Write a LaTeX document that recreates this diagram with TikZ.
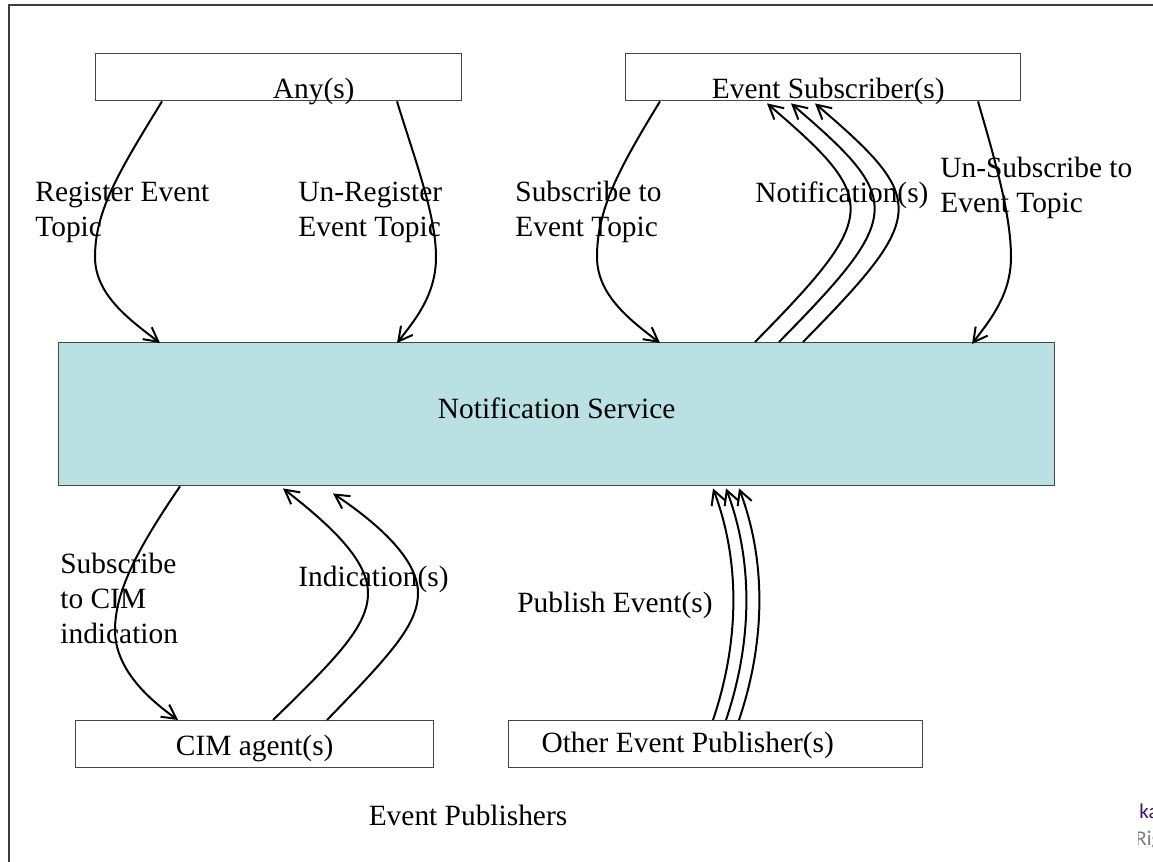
\documentclass[tikz,border=0pt]{standalone}
\usepackage{fontspec}
\setmainfont{Liberation Serif}
\newfontfamily\edgefont{Carlito}
\usetikzlibrary{arrows.meta,calc}
\definecolor{servicefill}{RGB}{185,224,227}
\definecolor{boxline}{RGB}{70,70,70}
\definecolor{framegray}{RGB}{60,60,60}
\definecolor{markpurple}{RGB}{60,20,110}
\definecolor{markgray}{RGB}{125,125,125}
\begin{document}
\begin{tikzpicture}[x=0.5pt,y=-0.5pt,
  every node/.style={font=\fontsize{14.7}{17.3}\selectfont},
  box/.style={draw=boxline, line width=0.7pt, inner sep=0pt, anchor=north west},
  flow/.style={line width=1pt, -{Straight Barb[length=7pt,width=7.5pt]}},
  lbl/.style={anchor=base west, align=left, inner sep=0pt}]
\useasboundingbox (0,0) rectangle (1153,862);

% outer frame
\draw[framegray, line width=1pt] (1153,5) -- (9,5) -- (9,862);

% boxes
\node[box, minimum width=183pt, minimum height=23.5pt, text height=22.5pt, text depth=1pt]
  (any) at (95,53) {\hspace*{35pt}Any(s)};
\node[box, minimum width=197.5pt, minimum height=23.5pt, text height=22.5pt, text depth=1pt]
  (sub) at (625,53) {\hspace*{5pt}Event Subscriber(s)};
\node[box, fill=servicefill, minimum width=498pt, minimum height=71.5pt, text height=38pt, text depth=33.5pt]
  (svc) at (58,342) {Notification Service};
\node[box, minimum width=179pt, minimum height=23.5pt, text height=17.5pt, text depth=6pt]
  (cim) at (75,720) {CIM agent(s)};
\node[box, minimum width=207pt, minimum height=23.5pt, text height=16pt, text depth=7.5pt]
  (other) at (508,720) {Other Event Publisher(s)\hspace*{28pt}};
\node[anchor=base, inner sep=0pt] (pubs) at (468,825) {Event Publishers};

% labels (base = baseline of the last line)
\node[lbl] (lreg) at (35,236) {Register Event\\Topic};
\node[lbl] (lunreg) at (298,236) {Un-Register\\Event Topic};
\node[lbl] (lsub) at (515,236) {Subscribe to\\Event Topic};
\node[lbl] (lnotif) at (755,202) {Notification(s)};
\node[lbl] (lunsub) at (940,212) {Un-Subscribe to\\Event Topic};
\node[lbl] (lcim) at (60,643) {Subscribe\\to CIM\\indication};
\node[lbl] (lind) at (298,586) {Indication(s)};
\node[lbl] (lpub) at (517,612) {Publish Event(s)};

% register / un-register
\draw[flow] ($(any.south west)+(67,0)$) .. controls (120,170) and (95,210) .. (95,257)
  .. controls (95,295) and (130,320) .. ($(svc.north west)+(102,1)$);
\draw[flow] ($(any.south west)+(302,0)$) .. controls (415,160) and (436,215) .. (436,257)
  .. controls (436,295) and (415,320) .. ($(svc.north west)+(339,1)$);

% subscribe / un-subscribe
\draw[flow] ($(sub.south west)+(35,0)$) .. controls (618,170) and (597,210) .. (597,257)
  .. controls (597,295) and (630,320) .. ($(svc.north west)+(602,1)$);
\draw[flow] ($(sub.south west)+(353,0)$) .. controls (995,160) and (1011,215) .. (1011,257)
  .. controls (1011,295) and (990,320) .. ($(svc.north west)+(914,2)$);

% notifications
\foreach \d in {0,24,48}
  \draw[flow] ($(svc.north west)+(697+\d,0)$) .. controls (880+\d,215) and (880+\d,200)
    .. ($(sub.south west)+(142+\d,2)$);

% CIM subscription and indications
\draw[flow] ($(svc.south west)+(122,0)$) .. controls (140,545) and (115,590) .. (115,630)
  .. controls (115,670) and (150,700) .. ($(cim.north west)+(103,0)$);
\draw[flow] ($(cim.north west)+(198,0)$) .. controls (340,655) and (368,625) .. (368,593)
  .. controls (368,560) and (330,525) .. ($(svc.south west)+(225,2)$);
\draw[flow] ($(cim.north west)+(252,0)$) .. controls (390,655) and (418,625) .. (418,593)
  .. controls (418,560) and (380,525) .. ($(svc.south west)+(275,7)$);

% published events
\foreach \d in {0,13,26}
  \draw[flow] ($(other.north west)+(205+\d,0)$) .. controls (740+\d,640) and (740+\d,560)
    .. ($(svc.south west)+(655+\d,2)$);

% text cut by the right edge
\begin{scope}
  \clip (1138,790) rectangle (1153,862);
  \node[anchor=base west, inner sep=0pt, font=\edgefont\fontsize{10.5}{12}\selectfont, text=markpurple]
    (mark1) at (1139,818) {ka};
  \node[anchor=base west, inner sep=0pt, font=\edgefont\fontsize{10.5}{12}\selectfont, text=markgray]
    (mark2) at (1135,845) {Rig};
\end{scope}
\end{tikzpicture}
\end{document}
